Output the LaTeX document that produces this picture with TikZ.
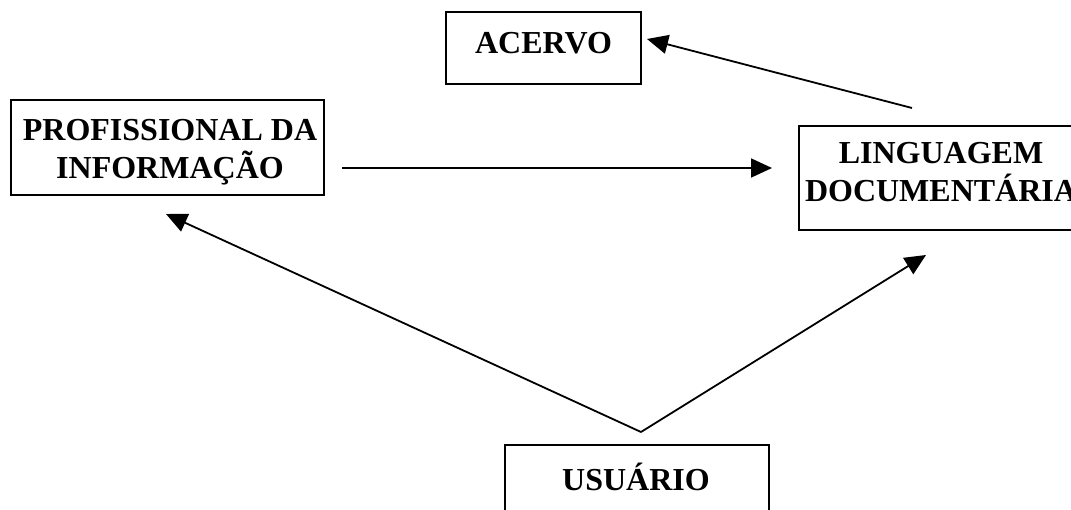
\documentclass[tikz,border=0pt]{standalone}
\usepackage{fontspec}
\setmainfont{Liberation Serif}
\usetikzlibrary{arrows.meta}
\begin{document}
\begin{tikzpicture}[x=1pt,y=-1pt,
  box/.style={draw,line width=1.8pt,rectangle,inner sep=0pt},
  lbl/.style={font=\fontsize{32}{37.5}\selectfont\bfseries,align=center,inner sep=0pt,anchor=north},
  arr/.style={line width=1.8pt,-{Triangle[length=21pt,width=19pt]}}]
\useasboundingbox (0,0) rectangle (1071,510);
% boxes
\node[box,minimum width=195pt,minimum height=72pt] (acervo) at (543.5,48) {};
\node[box,minimum width=313pt,minimum height=95pt] (prof) at (167.5,147.5) {};
\node[box,minimum width=320pt,minimum height=104pt,anchor=north west] (ling) at (798,125) {};
\node[box,minimum width=264pt,minimum height=120pt,anchor=north west] (usu) at (504,444) {};
% texts
\node[lbl] (tacervo) at (543.5,32.5) {ACERVO};
\node[lbl] (tprof) at (170,119.5) {PROFISSIONAL DA\\INFORMAÇÃO};
\node[lbl] (tling) at (941,142.5) {LINGUAGEM\\DOCUMENTÁRIA};
\node[lbl] (tusu) at (636,462.5) {USUÁRIO};
% connector ends
\coordinate (a1) at (912,108);
\coordinate (a2) at (647,39);
\coordinate (h1) at (342,168);
\coordinate (h2) at (772,168);
\coordinate (apex) at (641,432);
\coordinate (p2) at (166,214);
\coordinate (l2) at (926,255);
\draw[arr] (a1) -- (a2);
\draw[arr] (h1) -- (h2);
\draw[arr] (apex) -- (p2);
\draw[arr] (apex) -- (l2);
\end{tikzpicture}
\end{document}
